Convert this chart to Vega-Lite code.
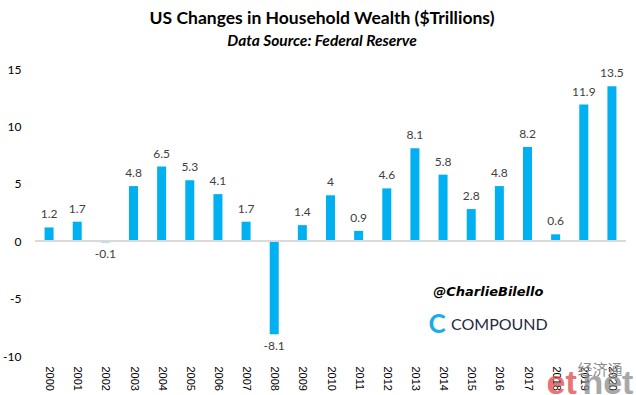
{
  "$schema": "https://vega.github.io/schema/vega-lite/v6.json",
  "autosize": {"type": "none"},
  "width": 591,
  "height": 287,
  "padding": {"left": 35, "top": 69, "right": 10, "bottom": 39},
  "background": "white",
  "title": {
    "text": "US Changes in Household Wealth ($Trillions)",
    "subtitle": "Data Source: Federal Reserve",
    "anchor": "middle",
    "frame": "bounds",
    "font": "Lato",
    "fontSize": 17.5,
    "fontWeight": "bold",
    "color": "#000000",
    "subtitleFont": "Lato",
    "subtitleFontSize": 15.5,
    "subtitleFontWeight": "bold",
    "subtitleFontStyle": "italic",
    "subtitleColor": "#000000",
    "subtitlePadding": 6,
    "offset": 14,
    "dx": 4
  },
  "config": {
    "view": {"stroke": null},
    "locale": {"number": {"decimal": ".", "thousands": ",", "grouping": [3], "currency": ["$", ""], "minus": "-"}}
  },
  "data": {"values": [
    {"year": "2000", "value": 1.2},
    {"year": "2001", "value": 1.7},
    {"year": "2002", "value": -0.1},
    {"year": "2003", "value": 4.8},
    {"year": "2004", "value": 6.5},
    {"year": "2005", "value": 5.3},
    {"year": "2006", "value": 4.1},
    {"year": "2007", "value": 1.7},
    {"year": "2008", "value": -8.1},
    {"year": "2009", "value": 1.4},
    {"year": "2010", "value": 4},
    {"year": "2011", "value": 0.9},
    {"year": "2012", "value": 4.6},
    {"year": "2013", "value": 8.1},
    {"year": "2014", "value": 5.8},
    {"year": "2015", "value": 2.8},
    {"year": "2016", "value": 4.8},
    {"year": "2017", "value": 8.2},
    {"year": "2018", "value": 0.6},
    {"year": "2019", "value": 11.9},
    {"year": "2020", "value": 13.5}
  ]},
  "encoding": {
    "x": {
      "field": "year", "type": "ordinal",
      "scale": {"paddingInner": 0.68, "paddingOuter": 0.34},
      "axis": {
        "title": null, "domain": false, "ticks": false,
        "labelAngle": 90, "labelPadding": 10, "labelFont": "Liberation Sans",
        "labelFontSize": 11, "labelColor": "#000000"
      }
    },
    "y": {
      "field": "value", "type": "quantitative",
      "scale": {"domain": [-10, 15], "nice": false, "zero": false},
      "axis": {
        "title": null, "domain": false, "ticks": false, "grid": false,
        "values": [-10, -5, 0, 5, 10, 15],
        "labelPadding": 14, "labelFont": "Lato", "labelFontSize": 12,
        "labelColor": "#000000"
      }
    }
  },
  "layer": [
    {
      "mark": {"type": "bar", "color": "#00B0F0"},
      "encoding": {"y2": {"datum": 0}}
    },
    {
      "mark": {"type": "rule", "color": "#d9d9d9", "strokeWidth": 1.5},
      "encoding": {"y": {"datum": 0}, "x": {}}
    },
    {
      "transform": [{"filter": "datum.value >= 0"}],
      "mark": {"type": "text", "baseline": "bottom", "dy": -6, "font": "Lato", "fontSize": 12, "color": "#404040"},
      "encoding": {"text": {"field": "value", "type": "quantitative"}}
    },
    {
      "transform": [{"filter": "datum.value < 0"}],
      "mark": {"type": "text", "baseline": "top", "dy": 7, "font": "Lato", "fontSize": 12, "color": "#404040"},
      "encoding": {"text": {"field": "value", "type": "quantitative"}}
    },
    {
      "data": {"values": [{"label": "@CharlieBilello", "year": "2016", "value": -4.45}]},
      "mark": {"type": "text", "font": "DejaVu Sans", "fontStyle": "italic", "fontWeight": "bold", "fontSize": 13, "color": "#000000", "dx": -11},
      "encoding": {"text": {"field": "label"}, "x": {"field": "year", "type": "ordinal"}, "y": {"field": "value", "type": "quantitative"}}
    },
    {
      "data": {"values": [{"label": "COMPOUND", "year": "2016", "value": -7.3}]},
      "mark": {"type": "text", "font": "Lato", "fontSize": 16, "color": "#1f2a44", "dx": 0},
      "encoding": {"text": {"field": "label"}, "x": {"field": "year", "type": "ordinal"}, "y": {"field": "value", "type": "quantitative"}}
    },
    {
      "data": {"values": [{"label": "C", "year": "2015", "value": -7.3}]},
      "mark": {"type": "text", "font": "Lato", "fontWeight": "bold", "fontSize": 26, "color": "#19aee8", "dx": -34},
      "encoding": {"text": {"field": "label"}, "x": {"field": "year", "type": "ordinal"}, "y": {"field": "value", "type": "quantitative"}}
    },
    {
      "data": {"values": [{"label": "经济通", "year": "2020", "value": -11.2}]},
      "mark": {"type": "text", "font": "Noto Sans CJK SC", "fontSize": 15, "color": "#8c8c8c", "dx": -12},
      "encoding": {"text": {"field": "label"}, "x": {"field": "year", "type": "ordinal"}, "y": {"field": "value", "type": "quantitative"}}
    },
    {
      "data": {"values": [{"label": "et", "year": "2018", "value": -12.4}]},
      "mark": {"type": "text", "font": "Liberation Sans", "fontWeight": "bold", "fontSize": 34, "color": "#e04848", "opacity": 0.75, "dx": 6},
      "encoding": {"text": {"field": "label"}, "x": {"field": "year", "type": "ordinal"}, "y": {"field": "value", "type": "quantitative"}}
    },
    {
      "data": {"values": [{"label": "net", "year": "2020", "value": -12.4}]},
      "mark": {"type": "text", "font": "Liberation Sans", "fontWeight": "bold", "fontSize": 34, "color": "#8c8c8c", "opacity": 0.75, "dx": -4},
      "encoding": {"text": {"field": "label"}, "x": {"field": "year", "type": "ordinal"}, "y": {"field": "value", "type": "quantitative"}}
    }
  ]
}
